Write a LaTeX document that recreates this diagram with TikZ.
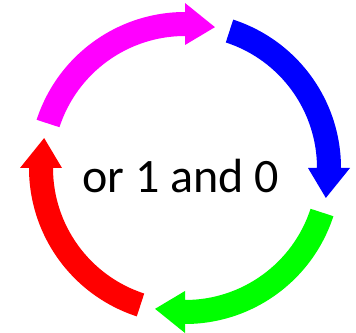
\documentclass[tikz,border=0pt]{standalone}
\usepackage{fontspec}
\setmainfont{Carlito}
\usetikzlibrary{calc}
\definecolor{cmag}{RGB}{255,0,255}
\definecolor{cblue}{RGB}{0,0,255}
\definecolor{cgreen}{RGB}{0,255,0}
\definecolor{cred}{RGB}{255,0,0}
% #1 colour, #2 head base angle, #3 tail angle
\newcommand{\cyclearrow}[3]{%
  \fill[#1] ($(C)+(#3:156pt)$) arc[start angle=#3, end angle=#2, radius=156pt]
    -- ($(C)+(#2:165pt)$) -- ($(C)+({#2-12}:144pt)$) -- ($(C)+(#2:123pt)$)
    -- ($(C)+(#2:132pt)$) arc[start angle=#2, end angle=#3, radius=132pt] -- cycle;}
\begin{document}
\begin{tikzpicture}[x=1pt,y=1pt]
\useasboundingbox (0,0) rectangle (356,332);
\coordinate (C) at (185,164);
\cyclearrow{cblue}{0}{72}
\cyclearrow{cgreen}{-90}{-18}
\cyclearrow{cred}{-180}{-108}
\cyclearrow{cmag}{90}{162}
\node (t) at (180.5,139) [anchor=base, inner sep=0pt, font=\fontsize{48}{58}\selectfont] {or 1 and 0};
\end{tikzpicture}
\end{document}
